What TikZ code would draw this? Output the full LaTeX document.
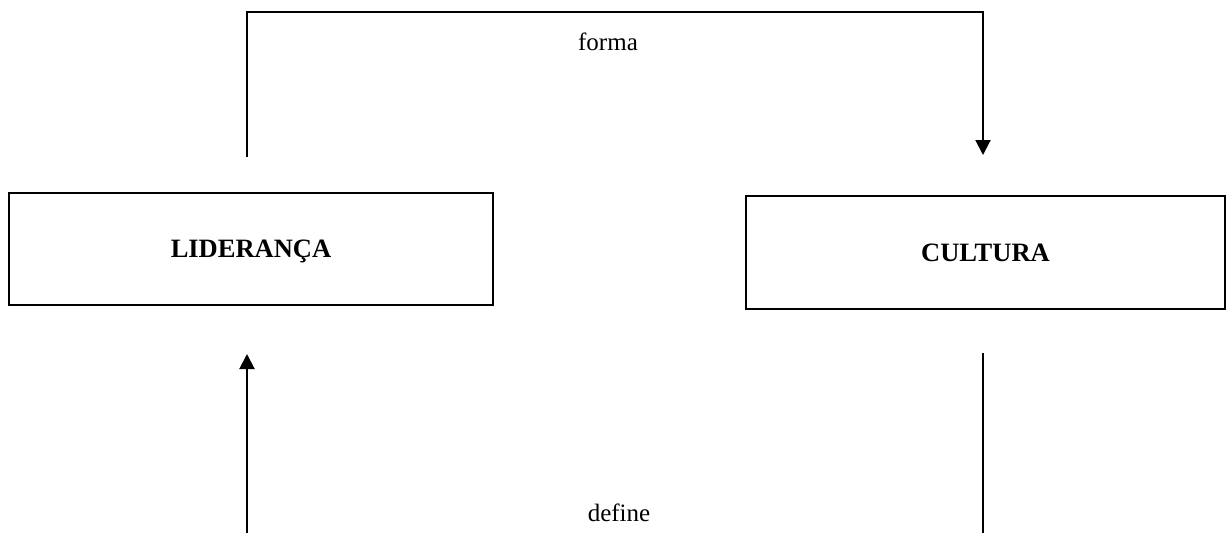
\documentclass[tikz,border=0pt]{standalone}
\usepackage{fontspec}
\setmainfont{Liberation Serif}
\usetikzlibrary{arrows.meta}
\begin{document}
\begin{tikzpicture}[x=1pt,y=-1pt,
  box/.style={draw,line width=1.6pt,minimum width=#1,inner sep=0pt,text height=17.5pt,text depth=0pt,font=\fontsize{26.5}{30}\selectfont\bfseries},
  conn/.style={line width=2pt},
  arr/.style={conn,-{Triangle[length=15pt,width=15pt]}},
  lbl/.style={font=\fontsize{25}{30}\selectfont,inner sep=0pt}]
\useasboundingbox (0,0) rectangle (1230,533);
\node[box=484pt,minimum height=112pt] (lid) at (251,249) {LIDERANÇA};
\node[box=479pt,minimum height=113pt] (cult) at (985.5,252.5) {CULTURA};
\coordinate (ts) at (247,157);
\coordinate (tl) at (247,12);
\coordinate (tr) at (983,12);
\coordinate (te) at (983,155);
\coordinate (bs) at (247,533);
\coordinate (be) at (247,354);
\coordinate (rs) at (983,353);
\coordinate (re) at (983,533);
\draw[arr] (ts) -- (tl) -- (tr) -- (te);
\draw[arr] (bs) -- (be);
\draw[conn] (rs) -- (re);
\node[lbl] (forma) at (608,42) {forma};
\node[lbl] (define) at (619,513) {define};
\end{tikzpicture}
\end{document}
